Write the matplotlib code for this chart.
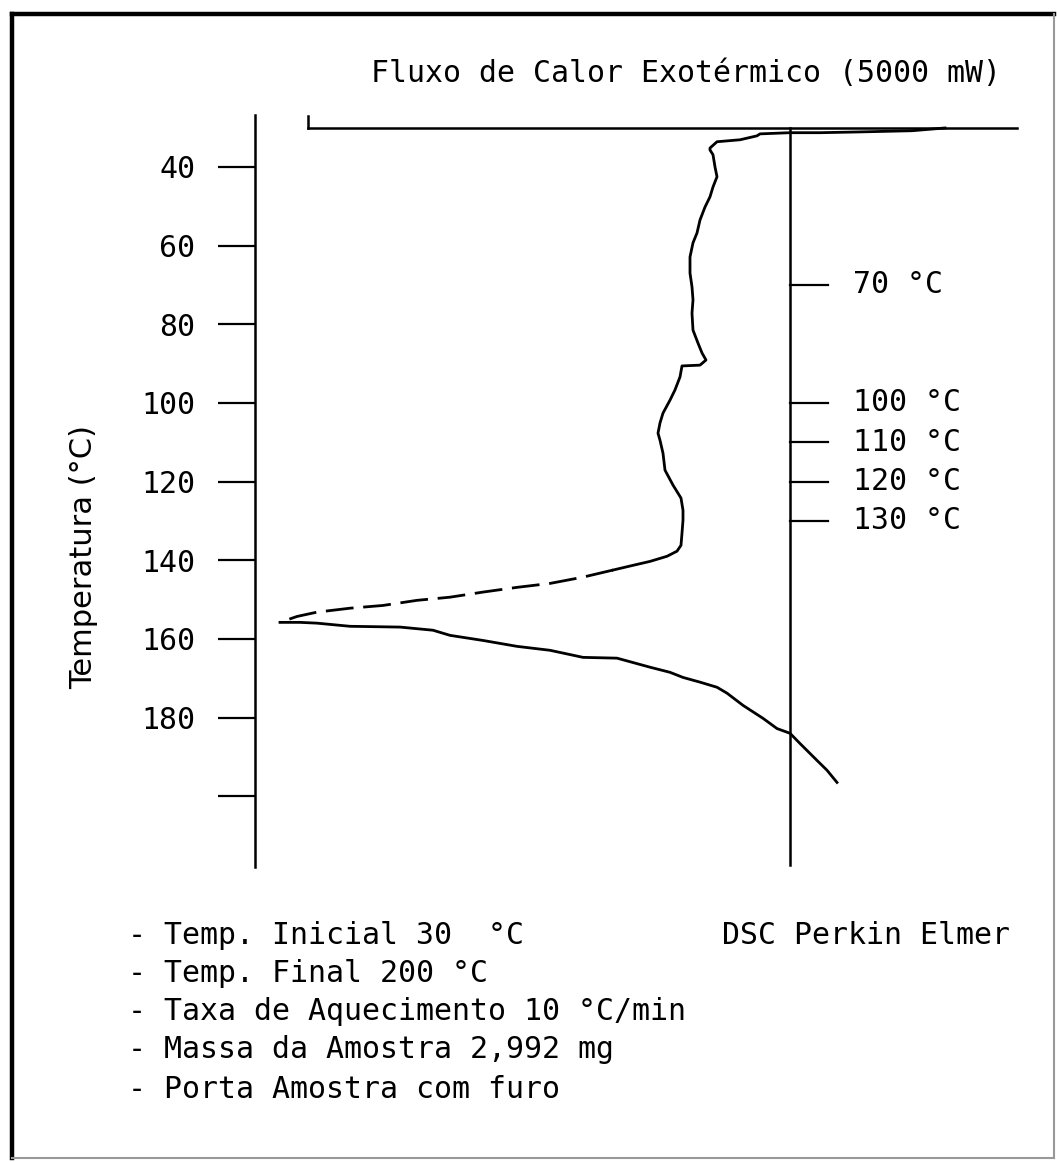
import matplotlib
matplotlib.use("Agg")
import matplotlib.pyplot as plt
from matplotlib.lines import Line2D

plt.rcParams['font.family'] = ['DejaVu Sans Mono', 'DejaVu Sans']

# ---------------- data ----------------
# temperature (°C) along the DSC trace
temperature = [30.1, 30.8, 31.1, 31.3, 31.3, 31.6, 32.1, 33.1, 33.6, 35.2, 35.7, 36.9,
               40.0, 42.5, 45.1, 47.6, 50.2, 53.5, 56.8, 59.3, 62.9, 67.0, 70.5, 73.8,
               77.2, 81.5, 84.8, 87.3, 89.1, 90.4, 90.6, 93.4, 96.7, 99.3, 102.6, 105.1,
               107.7, 109.5, 112.8, 117.1, 120.9, 124.2, 127.3, 129.8, 133.1, 136.2,
               137.7, 139.0, 140.3, 141.3, 142.5,
               144.3, 145.9, 146.9, 148.1, 149.4, 150.2, 151.5, 152.2, 153.2, 154.3, 155.8,
               155.8, 156.0, 156.8, 157.0, 157.8, 159.1, 160.4, 161.9, 162.9, 164.7,
               164.9, 167.2, 168.5, 169.8, 171.0, 172.3, 173.8, 176.9, 180.2, 182.8,
               184.0, 186.6, 190.9, 193.4, 196.5]
# exothermic heat flow relative to the baseline (mW)
heat_flow = [1085, 854, 490, 210, 0, -210, -231, -350, -511, -560, -560, -539,
             -525, -511, -539, -560, -595, -630, -651, -679, -700, -700, -686, -679,
             -686, -679, -644, -616, -588, -630, -756, -770, -805, -840, -889, -910,
             -924, -910, -889, -875, -819, -763, -749, -749, -756, -763,
             -791, -861, -980, -1099, -1239,
             -1449, -1680, -1911, -2149, -2380, -2611, -2849, -3080, -3311, -3451, -3570,
             -3430, -3311, -3080, -2730, -2499, -2380, -2149, -1911, -1680, -1449,
             -1211, -980, -840, -749, -630, -511, -441, -329, -189, -91,
             0, 70, 189, 259, 329]
# index ranges: solid start, dashed part of the descending edge, solid return
dash_start = 50
dash_end = 61

left_ticks = [40, 60, 80, 100, 120, 140, 160, 180, 200]
left_tick_labels = ["40", "60", "80", "100", "120", "140", "160", "180", ""]
marker_temps = [70, 100, 110, 120, 130]
marker_labels = ["70 °C", "100 °C", "110 °C", "120 °C", "130 °C"]

title = "Fluxo de Calor Exotérmico (5000 mW)"
ylabel = "Temperatura (°C)"
notes = ["- Temp. Inicial 30  °C",
         "- Temp. Final 200 °C",
         "- Taxa de Aquecimento 10 °C/min",
         "- Massa da Amostra 2,992 mg",
         "- Porta Amostra com furo"]
instrument = "DSC Perkin Elmer"

# ---------------- layout ----------------
W, H = 1057, 1162
FS = 21.5
fig = plt.figure(figsize=(W / 100, H / 100), dpi=100)
fig.patch.set_facecolor("white")

def fx(px):
    return px / W

def fy(py):
    return 1 - py / H

ax_l, ax_r, ax_t, ax_b = 255, 1030, 115, 867
ax = fig.add_axes([fx(ax_l), fy(ax_b), fx(ax_r - ax_l), (ax_b - ax_t) / H])
ax.set_xlim(-3745, 1680)
ax.set_ylim(218, 26.8)
ax.set_facecolor("none")

for s in ["top", "right", "bottom"]:
    ax.spines[s].set_visible(False)
ax.spines["left"].set_linewidth(1.8)
ax.set_xticks([])
ax.set_yticks(left_ticks)
ax.set_yticklabels(left_tick_labels, fontsize=FS)
ax.tick_params(axis="y", direction="out", length=27, width=1.6, pad=16, colors="black")
ax.set_ylabel(ylabel, fontsize=22, family="DejaVu Sans")
ax.yaxis.set_label_coords(-0.203, 0.412)

lw = 2.0
# baseline vertical line and the top horizontal line
ax.plot([0, 0], [30, 217.5], color="black", lw=1.8, clip_on=False)
ax.plot([-3374, 1589], [30, 30], color="black", lw=1.8, clip_on=False)
ax.plot([-3374, -3374], [27, 30], color="black", lw=1.8, clip_on=False)

# marker ticks on the baseline
for t, lab in zip(marker_temps, marker_labels):
    ax.plot([0, 266], [t, t], color="black", lw=1.6, clip_on=False)
    ax.text(441, t, lab, fontsize=FS, ha="left", va="center")

# DSC trace
ax.plot(heat_flow[:dash_start + 1], temperature[:dash_start + 1], color="black",
        lw=lw, clip_on=False, solid_joinstyle="round")
ax.plot(heat_flow[dash_start:dash_end + 1], temperature[dash_start:dash_end + 1],
        color="black", lw=lw, clip_on=False, linestyle=(0, (10, 3.5)))
ax.plot(heat_flow[dash_end:], temperature[dash_end:], color="black", lw=lw,
        clip_on=False, solid_joinstyle="round")

# texts
fig.text(fx(686), fy(74), title, fontsize=FS, ha="center", va="center")
note_y = [935, 973, 1012, 1050, 1089]
for yy, line in zip(note_y, notes):
    fig.text(fx(128), fy(yy), line, fontsize=FS, ha="left", va="center")
fig.text(fx(722), fy(935), instrument, fontsize=FS, ha="left", va="center")

# frame around the whole sheet
fig.add_artist(Line2D([fx(12), fx(12)], [fy(14), fy(1158)], color="black", lw=3.2))
fig.add_artist(Line2D([fx(12), fx(1054)], [fy(14), fy(14)], color="black", lw=3.2))
fig.add_artist(Line2D([fx(1054), fx(1054)], [fy(14), fy(1158)], color="#999999", lw=1.5))
fig.add_artist(Line2D([fx(12), fx(1054)], [fy(1158), fy(1158)], color="#999999", lw=1.5))

fig.savefig("out.png", dpi=100, facecolor="white")
